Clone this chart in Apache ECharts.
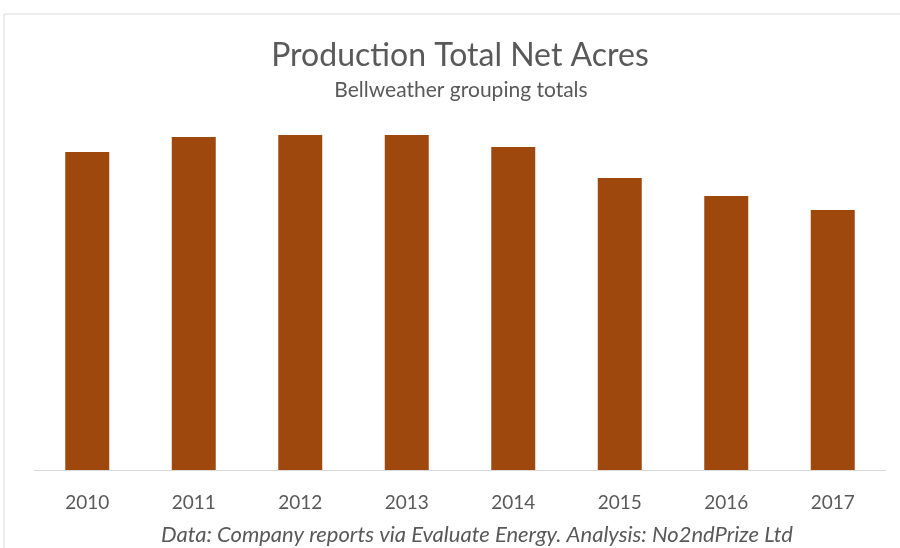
<!DOCTYPE html>
<html><head><meta charset="utf-8">
<script src="https://cdn.jsdelivr.net/npm/echarts@6/dist/echarts.min.js"></script>
<style>html,body{margin:0;padding:0;background:#fff}#c{width:900px;height:548px}</style>
</head><body><div id="c"></div>
<script>
const categories = ['2010','2011','2012','2013','2014','2015','2016','2017'];
const netAcres = [318, 333, 335, 335, 323, 292, 274, 260];
const titleText = 'Production Total Net Acres';
const subtitleText = 'Bellweather grouping totals';
const footerText = 'Data: Company reports via Evaluate Energy. Analysis: No2ndPrize Ltd';

const chart = echarts.init(document.getElementById('c'));
const font = 'Lato, "Open Sans", sans-serif';
chart.setOption({
  animation: false,
  backgroundColor: '#fff',
  graphic: [
    {type: 'line', shape: {x1: 4, y1: 14, x2: 900, y2: 14}, style: {stroke: '#d9d9d9', lineWidth: 1}},
    {type: 'line', shape: {x1: 4, y1: 14, x2: 4, y2: 548}, style: {stroke: '#d9d9d9', lineWidth: 1}},
    {type: 'text', style: {x: 460, y: 40, text: titleText, textAlign: 'center', textVerticalAlign: 'top', fontFamily: font, fontSize: 32, fill: '#595959'}},
    {type: 'text', style: {x: 461, y: 80, text: subtitleText, textAlign: 'center', textVerticalAlign: 'top', fontFamily: font, fontSize: 21, fill: '#595959'}},
    {type: 'text', style: {x: 477, y: 524, text: footerText, textAlign: 'center', textVerticalAlign: 'top', fontFamily: font, fontSize: 22, fontStyle: 'italic', fill: '#595959'}}
  ],
  grid: {left: 34, right: 14, top: 120, bottom: 78},
  xAxis: {
    type: 'category', data: categories,
    axisLine: {lineStyle: {color: '#d9d9d9', width: 1}},
    axisTick: {show: false},
    axisLabel: {color: '#595959', fontSize: 19, fontFamily: font, margin: 23}
  },
  yAxis: {type: 'value', min: 0, max: 350, show: false, splitLine: {show: false}},
  series: [{
    type: 'bar', data: netAcres, barWidth: 44,
    itemStyle: {color: '#9E480E'}
  }]
});
</script></body></html>
